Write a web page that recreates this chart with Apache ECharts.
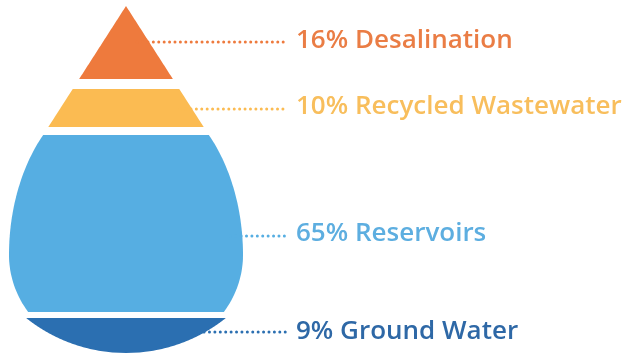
<!DOCTYPE html>
<html>
<head>
<meta charset="utf-8">
<script src="https://cdn.jsdelivr.net/npm/echarts@6/dist/echarts.min.js"></script>
<style>
html,body{margin:0;padding:0;background:#fff;}
#chart{width:628px;height:356px;}
</style>
</head>
<body>
<div id="chart"></div>
<script>
// ---- data ----
var categories = ['Desalination', 'Recycled Wastewater', 'Reservoirs', 'Ground Water'];
var shares = [16, 10, 65, 9];

// ---- styles ----
var fillColors = ['#EE7A3D', '#FBBB52', '#56AEE2', '#2B6FB1'];
var textColors = ['#EA7D45', '#F8BE5C', '#5DAEE0', '#2E68A6'];

// ---- layout (drop outline, in canvas-like units of the hidden axes) ----
var CX = 126;
var bandTop = [6, 89, 135, 318];
var bandBottom = [79, 127, 312, 353];
var labelY = [41, 107, 234, 332];
var leaderY = [42, 109, 236, 332];
var leaderEndX = 288;
var labelX = 296;

function halfWidth(y) {
  if (y <= 135) return Math.max(0, 0.642 * (y - 6));
  if (y <= 255) { var t = (255 - y) / 170; return 117 * Math.sqrt(Math.max(0, 1 - t * t)); }
  if (y <= 314) { var u = (y - 255) / 104; return 117 * Math.sqrt(Math.max(0, 1 - u * u)); }
  var R = 160, cy = 353 - R;
  return Math.sqrt(Math.max(0, R * R - (y - cy) * (y - cy)));
}

function renderItem(params, api) {
  var i = api.value(0);
  var top = bandTop[i], bot = bandBottom[i];
  var left = [], right = [];
  var steps = 60;
  for (var k = 0; k <= steps; k++) {
    var y = top + (bot - top) * k / steps;
    var hw = halfWidth(y);
    left.push(api.coord([CX - hw, y]));
    right.unshift(api.coord([CX + hw, y]));
  }
  var pts = left.concat(right);
  var ly = leaderY[i];
  var start = api.coord([CX + halfWidth(ly) - 12, ly]);
  var end = api.coord([leaderEndX, ly]);
  var tp = api.coord([labelX, labelY[i]]);
  return {
    type: 'group',
    children: [
      { type: 'polygon', shape: { points: pts }, style: { fill: fillColors[i] } },
      { type: 'line', shape: { x1: start[0], y1: start[1], x2: end[0], y2: end[1] },
        style: { stroke: fillColors[i], lineWidth: 3, lineDash: [0.01, 5.4], lineCap: 'round' } },
      { type: 'text', x: tp[0], y: tp[1],
        style: { text: api.value(1) + '% ' + categories[i], fill: textColors[i],
          font: '600 26px "Open Sans", "Noto Sans", sans-serif', textVerticalAlign: 'middle', textAlign: 'left' } }
    ]
  };
}

var chart = echarts.init(document.getElementById('chart'), null, { renderer: 'canvas' });
chart.setOption({
  animation: false,
  grid: { left: 0, right: 0, top: 0, bottom: 0 },
  xAxis: { type: 'value', min: 0, max: 628, show: false },
  yAxis: { type: 'value', min: 0, max: 356, inverse: true, show: false },
  series: [{
    type: 'custom',
    renderItem: renderItem,
    encode: { x: 0, y: 1 },
    data: categories.map(function (c, i) { return [i, shares[i]]; })
  }]
});
</script>
</body>
</html>
